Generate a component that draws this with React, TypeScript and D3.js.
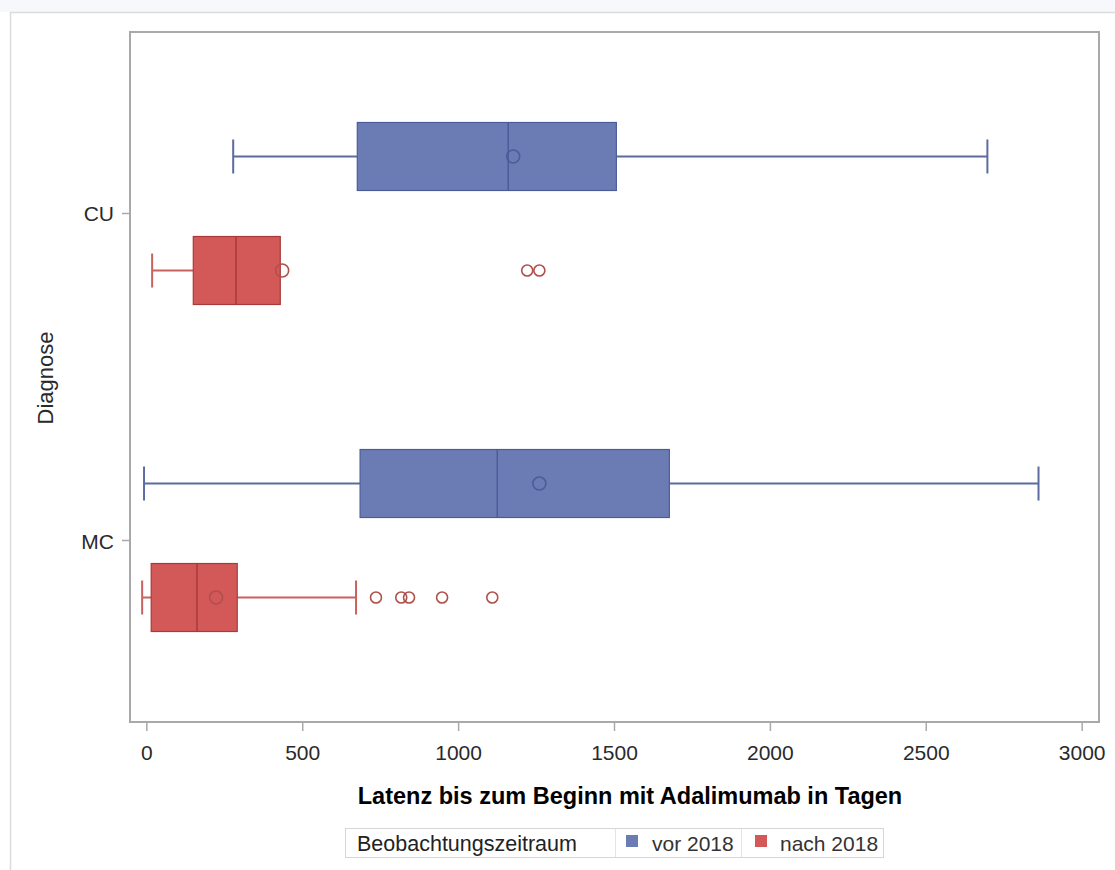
import React from "react";
import * as d3 from "d3";

const categories = ["CU", "MC"];
const periods = ["vor 2018", "nach 2018"];
const xTicks = [0, 500, 1000, 1500, 2000, 2500, 3000];

// vor 2018 (per category: CU, MC)
const vorMin = [277, -9];
const vorQ1 = [675, 684];
const vorMedian = [1159, 1124];
const vorQ3 = [1506, 1676];
const vorMax = [2696, 2860];
const vorMean = [1175, 1259];
const vorOutliers: number[][] = [[], []];

// nach 2018
const nachMin = [17, -15];
const nachQ1 = [149, 14];
const nachMedian = [286, 161];
const nachQ3 = [428, 290];
const nachMax = [428, 671];
const nachMean = [434, 222];
const nachOutliers: number[][] = [[1220, 1259], [735, 816, 841, 947, 1108]];

const colors = {
  "vor 2018": { fill: "#6b7cb4", stroke: "#4c5c98", whisker: "#5d6b9e", point: "#4c5c98" },
  "nach 2018": { fill: "#d35858", stroke: "#a83a3a", whisker: "#c8625c", point: "#b0504a" },
};

const W = 1115, H = 870;
const L = 130, R = 1099, T = 32, B = 722;
const FONT = "Arial, 'Liberation Sans', Helvetica, sans-serif";

export default function App() {
  const x = d3.scaleLinear().domain([-54, 3054]).range([L, R]);
  const y = d3.scalePoint<string>().domain(categories).range([T, B]).padding(0.555);
  const offset = d3.scalePoint<string>().domain(periods).range([-57, 57]);
  const boxH = 68;

  const series = [
    { name: "vor 2018", min: vorMin, q1: vorQ1, med: vorMedian, q3: vorQ3, max: vorMax, mean: vorMean, out: vorOutliers },
    { name: "nach 2018", min: nachMin, q1: nachQ1, med: nachMedian, q3: nachQ3, max: nachMax, mean: nachMean, out: nachOutliers },
  ];

  return (
    <svg width={W} height={H} style={{ position: "absolute", left: 0, top: 0, background: "#fff" }} fontFamily={FONT}>
      <rect x={0} y={0} width={W} height={12} fill="#f7f8fb" />
      <rect x={10.5} y={12.5} width={W + 10} height={H + 10} fill="#fff" stroke="#dcdcdc" strokeWidth={1.5} />
      {/* plot frame */}
      <rect x={L} y={T} width={R - L} height={B - T} fill="#fff" stroke="#a9a9a9" strokeWidth={2} />

      {series.map((s) =>
        categories.map((c, i) => {
          const cy = (y(c) as number) + (offset(s.name) as number);
          const col = colors[s.name as keyof typeof colors];
          const x1 = x(s.q1[i]), x3 = x(s.q3[i]);
          return (
            <g key={s.name + c}>
              {/* whiskers */}
              <line x1={x(s.min[i])} x2={x1} y1={cy} y2={cy} stroke={col.whisker} strokeWidth={2} />
              <line x1={x3} x2={x(s.max[i])} y1={cy} y2={cy} stroke={col.whisker} strokeWidth={2} />
              <line x1={x(s.min[i])} x2={x(s.min[i])} y1={cy - boxH / 4} y2={cy + boxH / 4} stroke={col.whisker} strokeWidth={2} />
              {s.max[i] > s.q3[i] && (
                <line x1={x(s.max[i])} x2={x(s.max[i])} y1={cy - boxH / 4} y2={cy + boxH / 4} stroke={col.whisker} strokeWidth={2} />
              )}
              {/* box */}
              <rect x={x1} y={cy - boxH / 2} width={x3 - x1} height={boxH} fill={col.fill} stroke={col.stroke} strokeWidth={1.2} />
              <line x1={x(s.med[i])} x2={x(s.med[i])} y1={cy - boxH / 2} y2={cy + boxH / 2} stroke={col.stroke} strokeWidth={1.5} />
              <circle cx={x(s.mean[i])} cy={cy} r={6.5} fill="none" stroke={col.point} strokeWidth={1.6} />
              {s.out[i].map((v, k) => (
                <circle key={k} cx={x(v)} cy={cy} r={5.5} fill="none" stroke={col.point} strokeWidth={1.6} />
              ))}
            </g>
          );
        })
      )}

      {/* x axis */}
      {xTicks.map((t) => (
        <g key={t}>
          <line x1={x(t)} x2={x(t)} y1={B} y2={B + 9} stroke="#a9a9a9" strokeWidth={1.5} />
          <text x={x(t)} y={760} textAnchor="middle" fontSize={21} fill="#2a2a2a">{t}</text>
        </g>
      ))}
      {/* y axis */}
      {categories.map((c) => (
        <g key={c}>
          <line x1={L - 8} x2={L} y1={y(c)} y2={y(c)} stroke="#a9a9a9" strokeWidth={1.5} />
          <text x={114} y={(y(c) as number) + 8} textAnchor="end" fontSize={21} fill="#2a2a2a">{c}</text>
        </g>
      ))}
      <text transform="translate(53,378) rotate(-90)" textAnchor="middle" fontSize={22} fill="#2a2a2a">Diagnose</text>

      <text x={630} y={804} textAnchor="middle" fontSize={23.5} fontWeight="bold" fill="#000">Latenz bis zum Beginn mit Adalimumab in Tagen</text>

      {/* legend */}
      <rect x={345.5} y={828.5} width={538} height={29} fill="#fff" stroke="#d6d6d6" strokeWidth={1} />
      <line x1={615.5} x2={615.5} y1={829} y2={857} stroke="#e4e4e4" />
      <line x1={741.5} x2={741.5} y1={829} y2={857} stroke="#e4e4e4" />
      <text x={357} y={851} fontSize={21.5} fill="#222">Beobachtungszeitraum</text>
      <rect x={626} y={835} width={12} height={12} fill={colors["vor 2018"].fill} />
      <text x={652} y={851} fontSize={21} fill="#333">vor 2018</text>
      <rect x={755} y={835} width={12} height={12} fill={colors["nach 2018"].fill} />
      <text x={780} y={851} fontSize={21} fill="#333">nach 2018</text>
    </svg>
  );
}
